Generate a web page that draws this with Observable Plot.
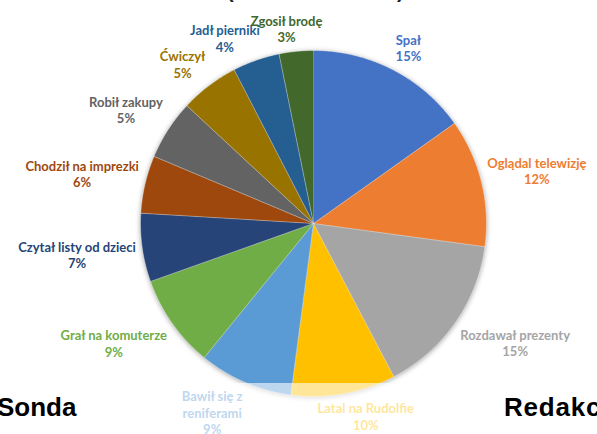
<!DOCTYPE html>
<html>
<head>
<meta charset="utf-8">
<script src="https://cdn.jsdelivr.net/npm/d3@7"></script>
<script src="https://cdn.jsdelivr.net/npm/@observablehq/plot@0.6"></script>
<style>
  html, body { margin: 0; padding: 0; background: #fff; }
  #wrap { position: relative; width: 597px; height: 434px; overflow: hidden; background: #fff; }
  #chart { position: absolute; left: 0; top: 0; }
  .paren { position: absolute; top: -20px; font: bold 20px "Liberation Sans", Arial, sans-serif; color: #222; }
  #fade { position: absolute; left: 0; top: 383px; width: 597px; height: 51px; background: rgba(255,255,255,0.6); }
  .foot { position: absolute; top: 394px; font: bold 26px "Liberation Sans", Arial, sans-serif; line-height: 26px; color: #000; white-space: nowrap; }
</style>
</head>
<body>
<div id="wrap">
  <div id="chart"></div>
  <div class="paren" style="left:227px">(</div>
  <div class="paren" style="left:397px">)</div>
  <div id="fade"></div>
  <div class="foot" style="left:-3px">Sonda</div>
  <div class="foot" style="left:504px; letter-spacing:0.8px">Redakcja</div>
</div>
<script>
// ---- data ----
const categories = [
  "Spał", "Oglądal telewizję", "Rozdawał prezenty", "Latal na Rudolfie",
  "Bawił się z\nreniferami", "Grał na komuterze", "Czytał listy od dzieci",
  "Chodził na imprezki", "Robił zakupy", "Ćwiczył", "Jadł pierniki", "Zgosił brodę"
];
const values = [15.2, 12.0, 15.2, 9.8, 8.8, 8.7, 6.4, 5.4, 5.6, 5.5, 4.4, 3.2];
const percentLabels = ["15%", "12%", "15%", "10%", "9%", "9%", "7%", "6%", "5%", "5%", "4%", "3%"];
const colors = ["#4472C4", "#ED7D31", "#A5A5A5", "#FFC000", "#5B9BD5", "#70AD47",
                "#264478", "#9E480E", "#636363", "#997300", "#255E91", "#43682B"];

// ---- layout ----
const W = 597, H = 434, cx = 313, cy = 223, R = 173;
const FONT = "Lato, 'Open Sans', sans-serif", FS = 13, LH = 1.27;

const arcs = d3.pie().sort(null).value(d => d.value)(
  categories.map((name, i) => ({name, value: values[i], pct: percentLabels[i]}))
);

// slice outlines (data coords, y up, origin at pie centre)
const slicePts = [];
for (const a of arcs) {
  const n = Math.max(2, Math.ceil((a.endAngle - a.startAngle) / 0.01));
  slicePts.push({name: a.data.name, x: 0, y: 0});
  for (let k = 0; k <= n; k++) {
    const t = a.startAngle + (a.endAngle - a.startAngle) * k / n;
    slicePts.push({name: a.data.name, x: R * Math.sin(t), y: R * Math.cos(t)});
  }
}

// label placement outside the end of each slice
const ctx = document.createElement("canvas").getContext("2d");
ctx.font = `bold ${FS}px ${FONT}`;
const clamp = v => Math.max(-1, Math.min(1, v));
const gap = 6, kx = 2.5;
const labels = arcs.map(a => {
  const text = a.data.name + "\n" + a.data.pct;
  const lines = text.split("\n");
  const w = d3.max(lines, l => ctx.measureText(l).width);
  const h = lines.length * FS * LH;
  const mid = (a.startAngle + a.endAngle) / 2;
  const ux = Math.sin(mid), uy = Math.cos(mid);
  return {
    name: a.data.name, text,
    x: (R + gap) * ux + clamp(kx * ux) * w / 2,
    y: (R + gap) * uy + clamp(kx * uy) * h / 2
  };
});

const plot = Plot.plot({
  width: W, height: H,
  marginTop: 0, marginRight: 0, marginBottom: 0, marginLeft: 0,
  x: {domain: [-cx, W - cx], range: [0, W], axis: null},
  y: {domain: [cy, cy - H], range: [0, H], axis: null},
  color: {type: "ordinal", domain: categories, range: colors},
  style: {background: "transparent", overflow: "visible"},
  marks: [
    Plot.line(slicePts, {x: "x", y: "y", z: "name", fill: "name", stroke: "#ffffff",
                         strokeWidth: 0.6, strokeOpacity: 0.6, curve: "linear"}),
    Plot.text(labels, {x: "x", y: "y", text: "text", fill: "name",
                       fontSize: FS, fontWeight: "bold", fontFamily: FONT,
                       lineHeight: LH, lineAnchor: "middle", textAnchor: "middle"})
  ]
});
d3.select(plot).select('g[aria-label="line"]')
  .style("filter", "drop-shadow(0px 1px 2.5px rgba(0,0,0,0.35))");
document.getElementById("chart").appendChild(plot);
</script>
</body>
</html>
